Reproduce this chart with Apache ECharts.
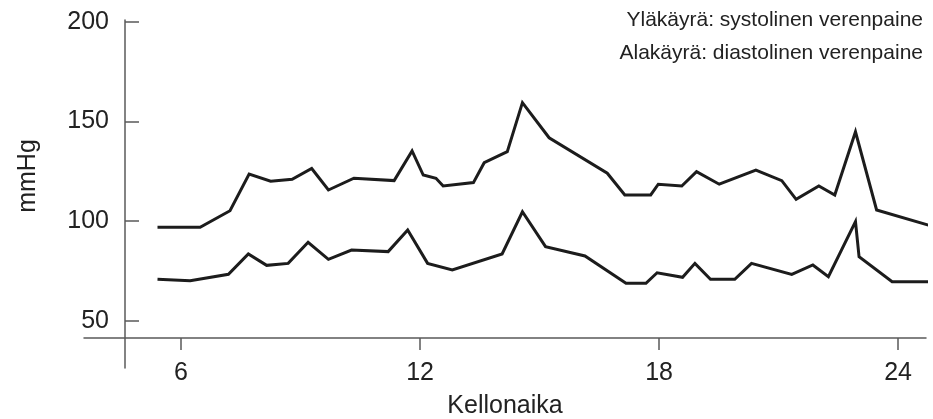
<!DOCTYPE html>
<html><head><meta charset="utf-8">
<script src="https://cdn.jsdelivr.net/npm/echarts@6/dist/echarts.min.js"></script>
<style>html,body{margin:0;padding:0;background:#fff}#c{width:933px;height:419px}</style>
</head><body><div id="c"></div>
<script>
const hoursUpper = [5.41,6.48,7.23,7.71,8.25,8.79,9.28,9.70,10.34,11.35,11.80,12.08,12.40,12.58,13.34,13.61,14.19,14.57,15.24,16.70,17.14,17.79,17.98,18.57,18.94,19.51,20.43,21.08,21.44,22.01,22.41,22.93,23.46,24.76];
const systolic = [96.9,96.9,105.2,123.6,120.0,121.0,126.4,115.6,121.5,120.3,135.2,123.1,121.5,117.6,119.3,129.3,134.8,159.4,141.8,124.0,113.1,113.1,118.5,117.6,124.8,118.5,125.6,120.3,110.9,117.6,113.1,144.8,105.6,98.0];
const hoursLower = [5.41,6.23,7.19,7.69,8.15,8.69,9.19,9.70,10.28,11.20,11.69,12.19,12.81,14.06,14.57,15.15,16.14,17.17,17.67,17.95,18.59,18.90,19.29,19.90,20.32,21.33,21.86,22.25,22.93,23.02,23.85,24.80];
const diastolic = [70.8,70.1,73.3,83.5,77.8,78.8,89.4,80.8,85.5,84.7,95.5,78.8,75.5,83.5,104.7,87.2,82.5,68.8,68.8,74.1,71.8,78.8,70.8,70.8,78.8,73.3,78.0,72.1,99.7,82.1,69.6,69.6];
const xTicks = [6,12,18,24];
const yTicks = [50,100,150,200];
const xName = 'Kellonaika';
const yName = 'mmHg';
const noteLines = ['Yläkäyrä: systolinen verenpaine','Alakäyrä: diastolinen verenpaine'];

const FONT = "'Liberation Sans', Arial, sans-serif";
const axisColor = '#5a5a5a';
const textColor = '#222';
const lineColor = '#1c1c1c';

const zip = (a,b) => a.map((v,i) => [v,b[i]]);

const chart = echarts.init(document.getElementById('c'), null, {renderer:'canvas'});
chart.setOption({
  animation:false,
  backgroundColor:'#fff',
  grid:{left:84, right:7, top:20, bottom:51, containLabel:false, outerBoundsMode:'none'},
  xAxis:{
    type:'value', min:3.565, max:24.70, offset:-30,
    name:xName, nameLocation:'middle', nameGap:56,
    nameTextStyle:{fontFamily:FONT, fontSize:25, color:textColor},
    axisLine:{show:true, lineStyle:{color:axisColor, width:1.5}},
    axisTick:{show:true, inside:false, length:12, customValues:xTicks, lineStyle:{color:axisColor, width:1.5}},
    axisLabel:{customValues:xTicks, fontFamily:FONT, fontSize:25, color:textColor, margin:23},
    splitLine:{show:false}
  },
  yAxis:{
    type:'value', min:26.33, max:200.85, offset:-41,
    axisLine:{show:true, lineStyle:{color:axisColor, width:1.5}},
    axisTick:{show:true, inside:true, length:14, customValues:yTicks, lineStyle:{color:axisColor, width:1.5}},
    axisLabel:{customValues:yTicks, fontFamily:FONT, fontSize:25, color:textColor, margin:16},
    splitLine:{show:false}
  },
  graphic:[
    {type:'text', x:28, y:176, rotation:Math.PI/2,
     style:{text:yName, fontFamily:FONT, fontSize:25, fill:textColor, align:'center', verticalAlign:'middle'}},
    {type:'text', x:923, y:20,
     style:{text:noteLines[0], fontFamily:FONT, fontSize:21, fill:textColor, align:'right', verticalAlign:'middle'}},
    {type:'text', x:923, y:53,
     style:{text:noteLines[1], fontFamily:FONT, fontSize:21, fill:textColor, align:'right', verticalAlign:'middle'}}
  ],
  series:[
    {type:'line', data:zip(hoursUpper, systolic), symbol:'none', clip:false,
     lineStyle:{color:lineColor, width:3, join:'miter'}},
    {type:'line', data:zip(hoursLower, diastolic), symbol:'none', clip:false,
     lineStyle:{color:lineColor, width:3, join:'miter'}}
  ]
});
</script></body></html>
